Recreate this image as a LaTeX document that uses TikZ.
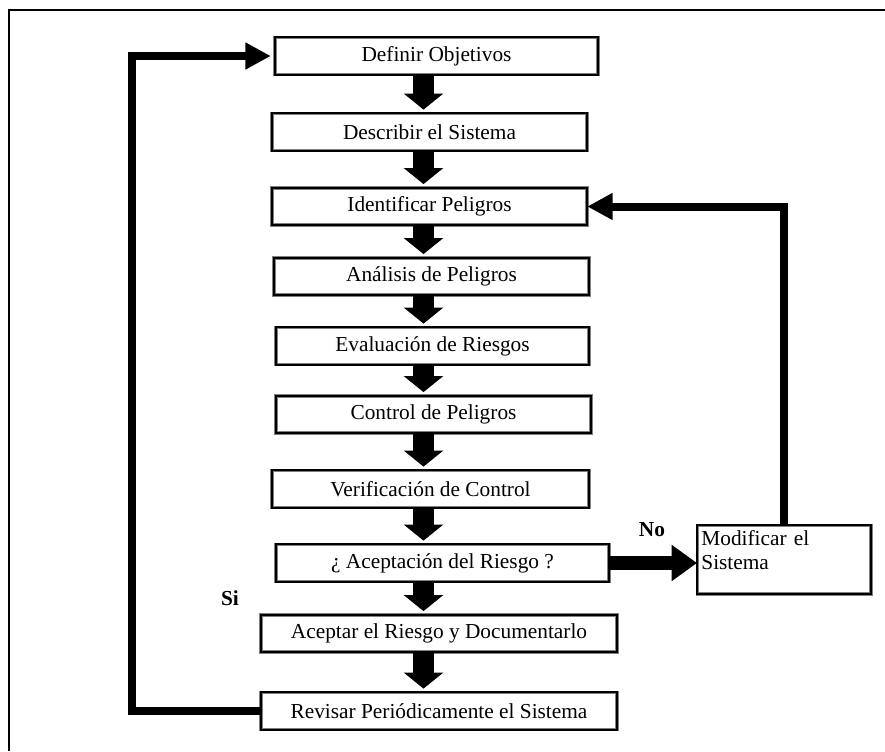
\documentclass[tikz,border=0pt]{standalone}
\usepackage{fontspec}
\setmainfont{Liberation Serif}
\usetikzlibrary{arrows.meta}

\begin{document}
\begin{tikzpicture}[x=0.75pt,y=-0.75pt,
  box/.style={draw=gray,double=black,double distance=1.5pt,line width=0.6pt,
    fill=white,minimum height=28pt,inner sep=2pt,
    font=\fontsize{16}{18}\selectfont},
  flowarrow/.style={line width=15.75pt,-{Triangle[length=12pt,width=29pt]},shorten >=2.5pt},
  looparrow/.style={line width=6pt,-{Triangle[length=19pt,width=19pt]}},
  noarrow/.style={line width=10pt,-{Triangle[length=19pt,width=26pt]}},
  answer/.style={font=\fontsize{16}{18}\selectfont\bfseries}
]
\useasboundingbox (0,0) rectangle (885,751);

% the frame
\draw[line width=2pt] (885,10) -- (9,10) -- (9,751);

% the steps
\foreach \i/\x/\y/\w/\t in {
  1/436.5/56/242/Definir Objetivos,
  2/429.5/132/236/Describir el Sistema,
  3/429.5/206.5/236/Identificar Peligros,
  4/431.5/276.5/236/Análisis de Peligros,
  5/432.5/346/235/Evaluación de Riesgos,
  6/433.5/414.5/236/Control de Peligros,
  7/430.5/489/238/Verificación de Control,
  8/442.5/563/250/¿ Aceptación del Riesgo ?,
  9/439/633.5/267/Aceptar el Riesgo y Documentarlo,
  10/439/711/267/Revisar Periódicamente el Sistema}
    \node[box,minimum width=\w pt] (s\i) at (\x,\y) {\t};

% the side box
\node[box,anchor=north west,text width=124pt,minimum width=130pt,align=left,
  inner ysep=3pt,inner xsep=2pt,text height=12pt,text depth=33.5pt]
  (mod) at (697,525) {Modificar el\\Sistema};

% the answers
\node[answer] (no) at (652,530) {No};
\node[answer] (si) at (230,598) {Si};

% the flow arrows
\coordinate (axis) at (423.5,0);
\foreach \i in {1,2,...,9} {
    \pgfmathtruncatemacro{\j}{\i + 1}%
    \draw[flowarrow] (s\i.south -| axis) -- (s\j.north -| axis);
}

% the loops
\coordinate (back) at (132,56);
\draw[looparrow] (s10.west) -| (back) -- ([xshift=-3pt]s1.west);
\draw[noarrow] (s8.east) -- (s8.east -| mod.west);
\draw[looparrow] (mod.north) |- (s3.east);

\end{tikzpicture}
\end{document}
